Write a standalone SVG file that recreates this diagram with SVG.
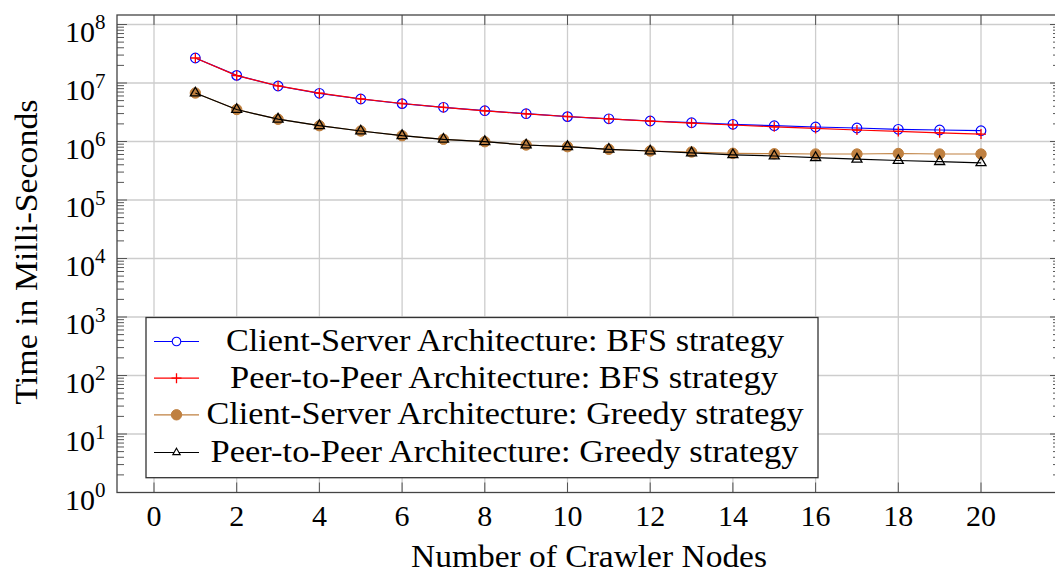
<svg xmlns="http://www.w3.org/2000/svg" xmlns:xlink="http://www.w3.org/1999/xlink" width="1055" height="576" viewBox="0 0 1055 576" font-family="'Liberation Serif','Times New Roman',serif">
<style>
text{font-family:"Liberation Serif","Times New Roman",serif;fill:#000}
.tl{font-size:30px}
.lab{font-size:32px}
.grid{stroke:#cdcdcd;stroke-width:1.3;fill:none}
.tick{stroke:#555;stroke-width:1;fill:none}
.ser{fill:none;stroke-width:1.2;stroke-linejoin:round}
</style>
<defs>
<marker id="mCirc" markerUnits="userSpaceOnUse" viewBox="-8 -8 16 16" markerWidth="16" markerHeight="16" refX="0" refY="0" overflow="visible"><circle r="4.8" fill="none" stroke="#0000ff" stroke-width="1.2"/></marker>
<marker id="mPlus" markerUnits="userSpaceOnUse" viewBox="-8 -8 16 16" markerWidth="16" markerHeight="16" refX="0" refY="0" overflow="visible"><path d="M-5,0H5M0,-5V5" stroke="#ff0000" stroke-width="1.3"/></marker>
<marker id="mDot" markerUnits="userSpaceOnUse" viewBox="-8 -8 16 16" markerWidth="16" markerHeight="16" refX="0" refY="0" overflow="visible"><circle r="5.2" fill="#bf8040" stroke="#bf8040" stroke-width="1"/></marker>
<marker id="mTri" markerUnits="userSpaceOnUse" viewBox="-8 -8 16 16" markerWidth="16" markerHeight="16" refX="0" refY="0" overflow="visible"><path d="M0,-5.8L5,2.9L-5,2.9Z" fill="none" stroke="#000" stroke-width="1.3"/></marker>
<marker id="mTriS" markerUnits="userSpaceOnUse" viewBox="-8 -8 16 16" markerWidth="16" markerHeight="16" refX="0" refY="0" overflow="visible"><path d="M0,-4.3L3.7,2.15L-3.7,2.15Z" fill="#fff" stroke="#000" stroke-width="1.1"/></marker>
<marker id="mCircS" markerUnits="userSpaceOnUse" viewBox="-8 -8 16 16" markerWidth="16" markerHeight="16" refX="0" refY="0" overflow="visible"><circle r="4.3" fill="#fff" stroke="#0000ff" stroke-width="1.1"/></marker>
<g id="dec"><path class="tick" d="M0,0h10M0,-17.61h7M0,-27.91h7M0,-35.22h7M0,-40.89h7M0,-45.52h7M0,-49.44h7M0,-52.83h7M0,-55.82h7"/></g>
</defs>
<rect width="1055" height="576" fill="#fff"/>
<g id="grid">
<path class="grid" d="M154,15V492.5M236.7,15V492.5M319.4,15V492.5M402.1,15V492.5M484.8,15V492.5M567.5,15V492.5M650.2,15V492.5M732.9,15V492.5M815.6,15V492.5M898.3,15V492.5M981,15V492.5"/>
<path class="grid" d="M117,434H1060M117,375.5H1060M117,317H1060M117,258.5H1060M117,200H1060M117,141.5H1060M117,83H1060M117,24.5H1060"/>
</g>
<g id="ticks">
<path class="tick" d="M154,492.5v-10M236.7,492.5v-10M319.4,492.5v-10M402.1,492.5v-10M484.8,492.5v-10M567.5,492.5v-10M650.2,492.5v-10M732.9,492.5v-10M815.6,492.5v-10M898.3,492.5v-10M981,492.5v-10"/>
<path class="tick" d="M154,15v10M236.7,15v10M319.4,15v10M402.1,15v10M484.8,15v10M567.5,15v10M650.2,15v10M732.9,15v10M815.6,15v10M898.3,15v10M981,15v10"/>
<use xlink:href="#dec" href="#dec" transform="translate(117,492.5)"/>
<use xlink:href="#dec" href="#dec" transform="translate(117,434)"/>
<use xlink:href="#dec" href="#dec" transform="translate(117,375.5)"/>
<use xlink:href="#dec" href="#dec" transform="translate(117,317)"/>
<use xlink:href="#dec" href="#dec" transform="translate(117,258.5)"/>
<use xlink:href="#dec" href="#dec" transform="translate(117,200)"/>
<use xlink:href="#dec" href="#dec" transform="translate(117,141.5)"/>
<use xlink:href="#dec" href="#dec" transform="translate(117,83)"/>
<use xlink:href="#dec" href="#dec" transform="translate(1060,492.5) scale(-1,1)"/>
<use xlink:href="#dec" href="#dec" transform="translate(1060,434) scale(-1,1)"/>
<use xlink:href="#dec" href="#dec" transform="translate(1060,375.5) scale(-1,1)"/>
<use xlink:href="#dec" href="#dec" transform="translate(1060,317) scale(-1,1)"/>
<use xlink:href="#dec" href="#dec" transform="translate(1060,258.5) scale(-1,1)"/>
<use xlink:href="#dec" href="#dec" transform="translate(1060,200) scale(-1,1)"/>
<use xlink:href="#dec" href="#dec" transform="translate(1060,141.5) scale(-1,1)"/>
<use xlink:href="#dec" href="#dec" transform="translate(1060,83) scale(-1,1)"/>
<path class="tick" d="M117,24.5h10M1060,24.5h-10"/>
</g>
<g id="series">
<polyline class="ser" stroke="#0000ff" marker-start="url(#mCirc)" marker-mid="url(#mCirc)" marker-end="url(#mCirc)" points="195.35,58 236.7,75.4 278.05,86 319.4,93.3 360.75,99 402.1,103.6 443.45,107.3 484.8,110.7 526.15,113.7 567.5,116.6 608.85,118.8 650.2,121 691.55,122.7 732.9,124.3 774.25,125.7 815.6,127 856.95,128 898.3,129.3 939.65,130 981,130.7"/>
<polyline class="ser" stroke="#ff0000" marker-start="url(#mPlus)" marker-mid="url(#mPlus)" marker-end="url(#mPlus)" points="195.35,58 236.7,75.6 278.05,85.9 319.4,93.2 360.75,98.9 402.1,103.5 443.45,107.4 484.8,110.8 526.15,113.8 567.5,116.5 608.85,118.9 650.2,121.1 691.55,123.2 732.9,125 774.25,126.8 815.6,128.4 856.95,130 898.3,131.4 939.65,132.8 981,134.1"/>
<polyline class="ser" stroke="#bf8040" marker-start="url(#mDot)" marker-mid="url(#mDot)" marker-end="url(#mDot)" points="195.35,93 236.7,109.5 278.05,119.2 319.4,125.7 360.75,131 402.1,135.7 443.45,139.3 484.8,141.7 526.15,145 567.5,146.7 608.85,149.3 650.2,151 691.55,152 732.9,153.3 774.25,153.7 815.6,154 856.95,154 898.3,153.5 939.65,154 981,154"/>
<polyline class="ser" stroke="#000" marker-start="url(#mTri)" marker-mid="url(#mTri)" marker-end="url(#mTri)" points="195.35,93 236.7,109.5 278.05,119.2 319.4,125.7 360.75,131 402.1,135.7 443.45,139.3 484.8,141.7 526.15,145 567.5,146.7 608.85,149.3 650.2,151 691.55,152.9 732.9,154.8 774.25,156 815.6,157.6 856.95,159.2 898.3,160.5 939.65,161.6 981,162.8"/>
</g>
<rect id="axisbox" x="117" y="15" width="943" height="477.5" fill="none" stroke="#444" stroke-width="1.3"/>
<g id="yticklabels" class="tl" text-anchor="end">
<text x="105.5" y="509.5">10<tspan dy="-12.5" font-size="21">0</tspan></text>
<text x="105.5" y="451">10<tspan dy="-12.5" font-size="21">1</tspan></text>
<text x="105.5" y="392.5">10<tspan dy="-12.5" font-size="21">2</tspan></text>
<text x="105.5" y="334">10<tspan dy="-12.5" font-size="21">3</tspan></text>
<text x="105.5" y="275.5">10<tspan dy="-12.5" font-size="21">4</tspan></text>
<text x="105.5" y="217">10<tspan dy="-12.5" font-size="21">5</tspan></text>
<text x="105.5" y="158.5">10<tspan dy="-12.5" font-size="21">6</tspan></text>
<text x="105.5" y="100">10<tspan dy="-12.5" font-size="21">7</tspan></text>
<text x="105.5" y="41.5">10<tspan dy="-12.5" font-size="21">8</tspan></text>
</g>
<g id="xticklabels" class="tl" text-anchor="middle">
<text x="154" y="525.7">0</text>
<text x="236.7" y="525.7">2</text>
<text x="319.4" y="525.7">4</text>
<text x="402.1" y="525.7">6</text>
<text x="484.8" y="525.7">8</text>
<text x="567.5" y="525.7">10</text>
<text x="650.2" y="525.7">12</text>
<text x="732.9" y="525.7">14</text>
<text x="815.6" y="525.7">16</text>
<text x="898.3" y="525.7">18</text>
<text x="981" y="525.7">20</text>
</g>
<g id="xlabel"><text class="lab" x="589" y="567.3" text-anchor="middle" textLength="356" lengthAdjust="spacingAndGlyphs">Number of Crawler Nodes</text></g>
<g id="ylabel"><text class="lab" transform="translate(37,252) rotate(-90)" x="0" y="0" text-anchor="middle" textLength="305" lengthAdjust="spacingAndGlyphs">Time in Milli-Seconds</text></g>
<g id="legend">
<rect x="146" y="317.5" width="672" height="160.2" fill="#fff" stroke="#333" stroke-width="1.3"/>
<polyline class="ser" stroke="#0000ff" marker-mid="url(#mCircS)" points="154,341.5 176.5,341.5 199,341.5"/>
<polyline class="ser" stroke="#ff0000" marker-mid="url(#mPlus)" points="154,378.2 176.5,378.2 199,378.2"/>
<polyline class="ser" stroke="#bf8040" marker-mid="url(#mDot)" points="154,414.8 176.5,414.8 199,414.8"/>
<polyline class="ser" stroke="#000" marker-mid="url(#mTriS)" points="154,452.5 176.5,452.5 199,452.5"/>
<text class="lab" x="505" y="350.8" text-anchor="middle" textLength="558" lengthAdjust="spacingAndGlyphs">Client-Server Architecture: BFS strategy</text>
<text class="lab" x="504" y="387.5" text-anchor="middle" textLength="548" lengthAdjust="spacingAndGlyphs">Peer-to-Peer Architecture: BFS strategy</text>
<text class="lab" x="505" y="424.3" text-anchor="middle" textLength="597" lengthAdjust="spacingAndGlyphs">Client-Server Architecture: Greedy strategy</text>
<text class="lab" x="504.5" y="462" text-anchor="middle" textLength="588" lengthAdjust="spacingAndGlyphs">Peer-to-Peer Architecture: Greedy strategy</text>
</g>
</svg>
